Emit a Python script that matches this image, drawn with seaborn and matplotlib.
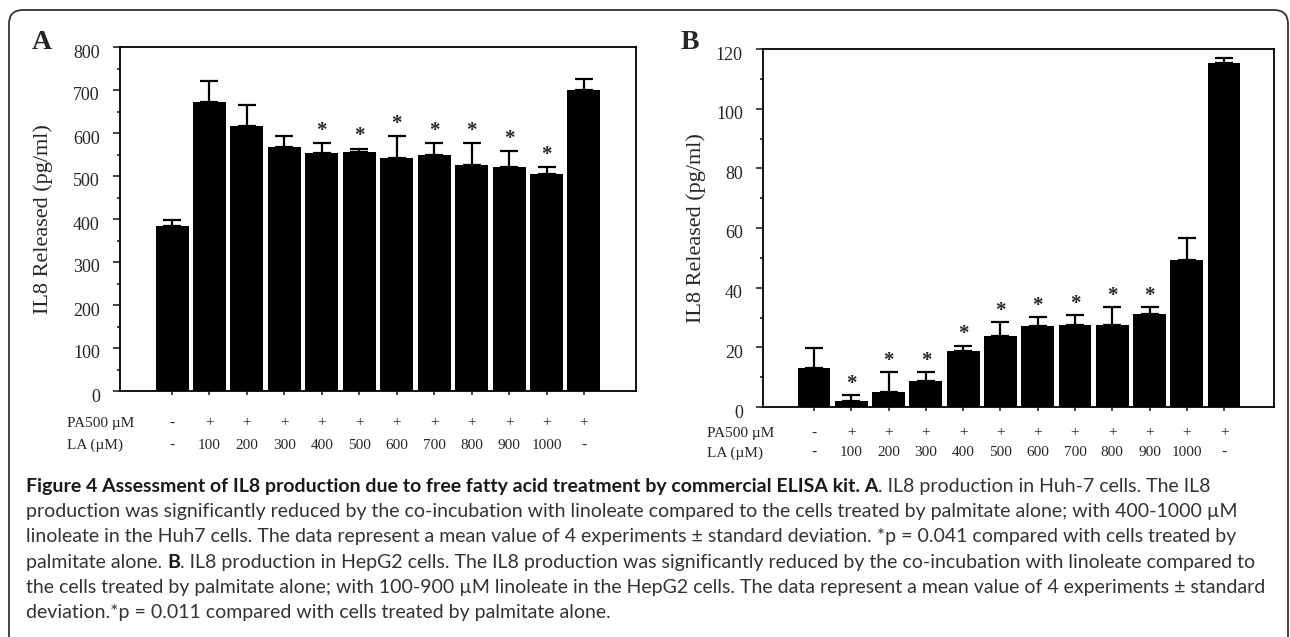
import numpy as np
import pandas as pd
import matplotlib
matplotlib.use('Agg')
import matplotlib.pyplot as plt
from matplotlib import font_manager
from matplotlib.patches import FancyBboxPatch
from matplotlib.transforms import IdentityTransform, ScaledTranslation
from matplotlib.ticker import MultipleLocator
import seaborn as sns

# --- data ---
groups = ['ctrl', 'LA100', 'LA200', 'LA300', 'LA400', 'LA500', 'LA600',
          'LA700', 'LA800', 'LA900', 'LA1000', 'PA']
pa_row = ['-', '+', '+', '+', '+', '+', '+', '+', '+', '+', '+', '+']
la_row = ['-', '100', '200', '300', '400', '500', '600', '700', '800', '900', '1000', '-']

# panel A: Huh-7
huh7_mean = [384, 671, 617, 567, 554, 555, 542, 550, 526, 522, 505, 699]
huh7_sd = [14, 51, 49, 26, 22, 8, 51, 26, 50, 35, 15, 27]
huh7_sig = [0, 0, 0, 0, 1, 1, 1, 1, 1, 1, 1, 0]

# panel B: HepG2
hepg2_mean = [13.1, 1.9, 4.9, 8.7, 18.7, 23.9, 27.0, 27.5, 27.4, 31.3, 49.3, 115.3]
hepg2_sd = [6.7, 2.0, 6.9, 3.1, 1.9, 4.5, 3.2, 3.4, 6.1, 2.2, 7.2, 1.7]
hepg2_sig = [0, 1, 1, 1, 1, 1, 1, 1, 1, 1, 0, 0]

caption = [
    [("Figure 4 Assessment of IL8 production due to free fatty acid treatment by commercial ELISA kit. A", True),
     (". IL8 production in Huh-7 cells. The IL8", False)],
    [("production was significantly reduced by the co-incubation with linoleate compared to the cells treated by palmitate alone; with 400-1000 \u00b5M", False)],
    [("linoleate in the Huh7 cells. The data represent a mean value of 4 experiments \u00b1 standard deviation. *p = 0.041 compared with cells treated by", False)],
    [("palmitate alone.", False), (" ", False), ("B", True),
     (". IL8 production in HepG2 cells. The IL8 production was significantly reduced by the co-incubation with linoleate compared to", False)],
    [("the cells treated by palmitate alone; with 100-900 \u00b5M linoleate in the HepG2 cells. The data represent a mean value of 4 experiments \u00b1 standard", False)],
    [("deviation.*p = 0.011 compared with cells treated by palmitate alone.", False)],
]
# right end (px) of each caption line in the original
caption_ends = [1270, 1242, 1240, 1263, 1265, None]

W, H = 1290, 637

sns.set_style('ticks')
plt.rcParams['font.family'] = ['Liberation Serif', 'DejaVu Serif']
plt.rcParams['axes.linewidth'] = 1.3


def pick_font(names):
    for n in names:
        try:
            font_manager.findfont(n, fallback_to_default=False)
            return n
        except Exception:
            pass
    return 'DejaVu Sans'


cap_font = pick_font(['Lato', 'Roboto', 'DejaVu Sans'])


def px_axes(fig, left, top, right, bottom):
    return fig.add_axes([left / W, 1 - bottom / H, (right - left) / W, (bottom - top) / H])


def draw_panel(ax, mean, sd, sig, ymax, major, minor, xlim, star_off, rows_off, label_x):
    df = pd.DataFrame({'group': groups, 'value': mean})
    sns.barplot(data=df, x='group', y='value', color='black', saturation=1,
                width=0.88, linewidth=0, ax=ax)
    pos = np.arange(len(groups))
    ax.errorbar(pos, mean, yerr=[np.zeros(len(sd)), sd], fmt='none',
                ecolor='black', elinewidth=1.6, capsize=6.5, capthick=1.6, zorder=1)
    for x, m, s, flag in zip(pos, mean, sd, sig):
        if flag:
            ax.annotate('*', (x, m + s), xytext=(0, star_off), textcoords='offset points',
                        ha='center', va='center', fontsize=15, fontweight='bold')
    ax.set_ylim(0, ymax)
    ax.set_xlim(*xlim)
    ax.yaxis.set_major_locator(MultipleLocator(major))
    ax.yaxis.set_minor_locator(MultipleLocator(minor))
    ax.tick_params(axis='y', which='major', length=5, width=1.2, labelsize=13, pad=9.5)
    ax.tick_params(axis='y', which='minor', length=2.5, width=1.2)
    ax.tick_params(axis='x', length=3, width=1.2, labelbottom=False)
    # labels sit a little below their ticks in the original
    shift = ScaledTranslation(0, -0.04, ax.figure.dpi_scale_trans)
    for lab in ax.get_yticklabels():
        lab.set_transform(lab.get_transform() + shift)
    for sp in ax.spines.values():
        sp.set_visible(True)
        sp.set_color('black')
    ax.set_xlabel('')
    ax.set_ylabel('IL8 Released (pg/ml)', fontsize=16)
    ax.yaxis.set_label_coords(label_x, 0.5)
    # treatment rows under the axis
    for row, off in zip([pa_row, la_row], rows_off):
        for x, lab in zip(pos, row):
            ax.annotate(lab, (x, 0), xycoords=('data', 'axes fraction'),
                        xytext=(0, -off), textcoords='offset points',
                        ha='center', va='center', fontsize=11)


fig = plt.figure(figsize=(W / 100, H / 100), dpi=100)

ax_a = px_axes(fig, 120, 47, 636, 391)
draw_panel(ax_a, huh7_mean, huh7_sd, huh7_sig, 800, 100, 50, (-1.39, 12.39),
           9, (23, 39), -0.13)
ax_b = px_axes(fig, 763, 49, 1274, 407)
draw_panel(ax_b, hepg2_mean, hepg2_sd, hepg2_sig, 120, 20, 10, (-1.37, 12.34),
           8, (18.7, 33), -0.112)

# row labels
for x0, ys in [(67, (423, 445)), (707, (433, 453))]:
    fig.text(x0 / W, 1 - ys[0] / H, 'PA500 \u00b5M', fontsize=11, va='center', ha='left')
    fig.text(x0 / W, 1 - ys[1] / H, 'LA (\u00b5M)', fontsize=11, va='center', ha='left')

# panel letters
fig.text(32 / W, 1 - 49 / H, 'A', fontsize=20, fontweight='bold', va='baseline')
fig.text(681 / W, 1 - 49 / H, 'B', fontsize=20, fontweight='bold', va='baseline')

# rounded frame, open at the bottom
frame = FancyBboxPatch((9, -30), 1279, H - 10 + 30, boxstyle='round,pad=0,rounding_size=14',
                       transform=IdentityTransform(), fill=False, edgecolor='#333333', linewidth=1.3)
fig.patches.append(frame)

# caption, mixed bold / regular; one size, the largest that keeps every line inside its end
renderer = fig.canvas.get_renderer()


def seg_width(txt, size, bold):
    t = fig.text(0, 0, txt, fontsize=size, family=cap_font,
                 fontweight='bold' if bold else 'normal')
    w = t.get_window_extent(renderer).width
    t.remove()
    return w


def space_width(size):
    return seg_width('a a', size, False) - seg_width('aa', size, False)


def line_width(parts, size):
    return sum(space_width(size) if t == ' ' else seg_width(t, size, b) for t, b in parts)


x_start = 26
cap_size = min(10 * (end - x_start) / line_width(parts, 10)
               for parts, end in zip(caption, caption_ends) if end)

for i, parts in enumerate(caption):
    y = 1 - (492 + i * 25.2) / H
    x = x_start
    for txt, bold in parts:
        if txt == ' ':
            x += space_width(cap_size)
            continue
        t = fig.text(x / W, y, txt, fontsize=cap_size, family=cap_font,
                     fontweight='bold' if bold else 'normal',
                     color='#1a1a1a' if bold else '#333333', va='baseline', ha='left')
        x += t.get_window_extent(renderer).width

fig.savefig('out.png', dpi=100)
